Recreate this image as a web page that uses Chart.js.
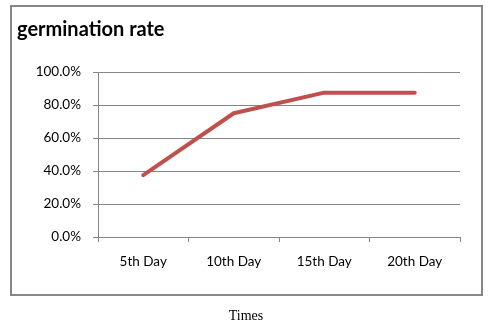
<!DOCTYPE html>
<html>
<head>
<meta charset="utf-8">
<script src="https://cdn.jsdelivr.net/npm/chart.js@4/dist/chart.umd.min.js"></script>
<style>
  html, body { margin: 0; padding: 0; background: #fff; }
  #wrap { width: 492px; height: 329px; }
</style>
</head>
<body>
<div id="wrap"><canvas id="chart" width="492" height="329"></canvas></div>
<script>
// chart data
const days = ['5th Day', '10th Day', '15th Day', '20th Day'];
const germination = [0.375, 0.75, 0.875, 0.875];
const chartTitle = 'germination rate';
const axisTitle = 'Times';

const GRAY = '#868686';

// frame, title and "Times" label are drawn around the plot
const framePlugin = {
  id: 'frame',
  beforeDraw(chart) {
    const ctx = chart.ctx;
    ctx.save();
    ctx.fillStyle = '#fff';
    ctx.fillRect(0, 0, chart.width, chart.height);
    ctx.strokeStyle = GRAY;
    ctx.lineWidth = 2;
    ctx.strokeRect(11, 6, 471, 289);
    ctx.restore();
  },
  afterDraw(chart) {
    const ctx = chart.ctx;
    ctx.save();
    ctx.fillStyle = '#000';
    ctx.textBaseline = 'alphabetic';
    ctx.textAlign = 'left';
    ctx.font = 'bold 20px Lato';
    ctx.fillText(chartTitle, 17, 36);
    ctx.textAlign = 'center';
    ctx.font = '14px "Liberation Serif"';
    ctx.fillText(axisTitle, 246, 320);
    ctx.restore();
  }
};

new Chart(document.getElementById('chart'), {
  type: 'line',
  data: {
    labels: days,
    datasets: [{
      data: germination,
      borderColor: '#C0504D',
      borderWidth: 4,
      borderCapStyle: 'round',
      borderJoinStyle: 'round',
      pointRadius: 0,
      tension: 0,
      fill: false
    }]
  },
  options: {
    responsive: false,
    animation: false,
    layout: { padding: { top: 72, left: 11, right: 32, bottom: 52 } },
    plugins: {
      legend: { display: false },
      tooltip: { enabled: false }
    },
    scales: {
      x: {
        offset: true,
        grid: { offset: true, drawOnChartArea: false, drawTicks: true, tickLength: 5, color: GRAY },
        border: { color: GRAY, width: 1 },
        ticks: { color: '#000', font: { family: 'Lato', size: 13.5 }, padding: 12, maxRotation: 0 },
        afterFit(scale) { scale.height = 40; scale.paddingLeft = 0; scale.paddingRight = 0; }
      },
      y: {
        min: 0,
        max: 1,
        ticks: {
          stepSize: 0.2,
          color: '#000',
          font: { family: 'Lato', size: 13.5 },
          padding: 12,
          callback: v => (v * 100).toFixed(1) + '%'
        },
        grid: { color: GRAY, tickLength: 5, lineWidth: 1 },
        border: { color: GRAY, width: 1 },
        afterFit(scale) { scale.width = 87; scale.paddingTop = 0; scale.paddingBottom = 0; }
      }
    }
  },
  plugins: [framePlugin]
});
</script>
</body>
</html>
